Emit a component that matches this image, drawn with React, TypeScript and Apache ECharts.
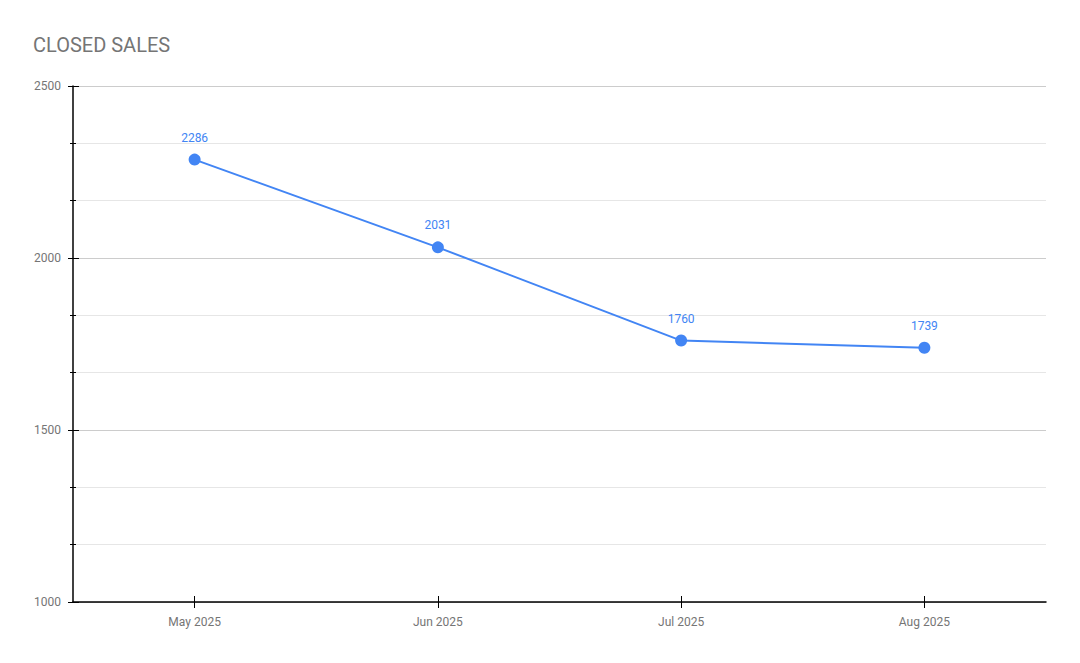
import React, { useEffect, useRef } from "react";
import * as echarts from "echarts";

const titleText = "CLOSED SALES";
const categories = ["May 2025", "Jun 2025", "Jul 2025", "Aug 2025"];
const closedSales = [2286, 2031, 1760, 1739];
const yMin = 1000;
const yMax = 2500;
const yInterval = 500;

export default function App() {
  const ref = useRef<HTMLDivElement>(null);
  useEffect(() => {
    if (!ref.current) return;
    const chart = echarts.init(ref.current, null, { renderer: "svg" });
    const font = "Roboto, Arial, sans-serif";
    const yBase = {
      type: "value" as const,
      min: yMin,
      max: yMax,
      interval: yInterval,
      position: "left" as const,
    };
    chart.setOption({
      animation: false,
      backgroundColor: "#ffffff",
      title: {
        text: titleText,
        left: 33,
        top: 35,
        padding: 0,
        textStyle: { color: "#757575", fontSize: 20, fontWeight: "normal", fontFamily: font },
      },
      grid: { left: 73, right: 34, top: 86, bottom: 61, containLabel: false },
      xAxis: [
        {
          type: "category",
          data: categories,
          boundaryGap: true,
          axisLine: { show: true, lineStyle: { color: "#000", width: 1.5 } },
          axisTick: { show: true, alignWithLabel: true, length: 6, lineStyle: { color: "#000" } },
          axisLabel: { color: "#757575", fontSize: 12, fontFamily: font, margin: 14 },
          splitLine: { show: false },
        },
        {
          type: "category",
          data: categories,
          position: "bottom",
          boundaryGap: true,
          axisLine: { show: false },
          axisTick: { show: true, inside: true, alignWithLabel: true, length: 6, lineStyle: { color: "#000" } },
          axisLabel: { show: false },
          splitLine: { show: false },
        },
      ],
      yAxis: [
        {
          ...yBase,
          axisLine: { show: true, lineStyle: { color: "#000", width: 1.5 } },
          axisTick: { show: true, length: 5, lineStyle: { color: "#000" } },
          minorTick: { show: true, splitNumber: 3, length: 3, lineStyle: { color: "#000" } },
          axisLabel: {
            color: "#757575",
            fontSize: 12,
            fontFamily: font,
            margin: 12,
            formatter: (v: number) => String(v),
          },
          splitLine: { show: true, lineStyle: { color: "#cccccc", width: 1 } },
          minorSplitLine: { show: true, lineStyle: { color: "#e6e6e6", width: 1 } },
        },
        {
          ...yBase,
          axisLine: { show: false },
          axisTick: { show: true, inside: true, length: 6, lineStyle: { color: "#000" } },
          minorTick: { show: true, splitNumber: 3, length: 3, lineStyle: { color: "#000" } },
          axisLabel: { show: false },
          splitLine: { show: false },
        },
      ],
      series: [
        {
          type: "line",
          data: closedSales,
          xAxisIndex: 0,
          yAxisIndex: 0,
          symbol: "circle",
          symbolSize: 12,
          lineStyle: { color: "#4285F4", width: 2 },
          itemStyle: { color: "#4285F4" },
          label: {
            show: true,
            position: "top",
            distance: 10,
            color: "#4285F4",
            fontSize: 12,
            fontFamily: font,
          },
        },
      ],
    });
    return () => chart.dispose();
  }, []);
  return (
    <div
      ref={ref}
      style={{ position: "fixed", left: 0, top: 0, width: 1080, height: 663, background: "#fff" }}
    />
  );
}
